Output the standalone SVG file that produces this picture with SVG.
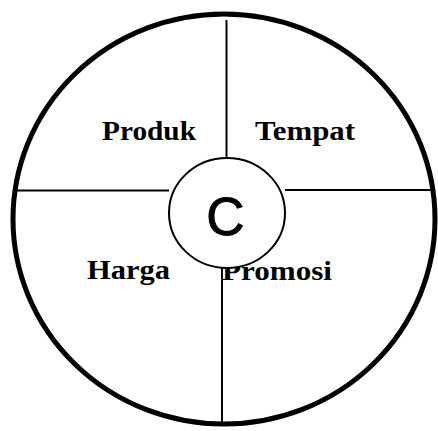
<svg xmlns="http://www.w3.org/2000/svg" width="438" height="431" viewBox="0 0 438 431">
<style>
.line{stroke:#000;stroke-width:2;fill:none}
.lbl{font-family:"Liberation Serif","Times New Roman",serif;font-weight:bold;font-size:28px;fill:#000}
</style>
<rect width="438" height="431" fill="#fff"/>
<g id="labels">
<text class="lbl" x="102" y="140" textLength="94" lengthAdjust="spacingAndGlyphs">Produk</text>
<text class="lbl" x="255" y="140" textLength="100" lengthAdjust="spacingAndGlyphs">Tempat</text>
<text class="lbl" x="87" y="279" textLength="83" lengthAdjust="spacingAndGlyphs">Harga</text>
<text class="lbl" x="222" y="280" textLength="110" lengthAdjust="spacingAndGlyphs">Promosi</text>
</g>
<g id="connectors">
<line class="line" x1="226.5" y1="20" x2="226.5" y2="158"/>
<line class="line" x1="222" y1="267" x2="222" y2="424"/>
<line class="line" x1="16" y1="190.5" x2="169" y2="190.5"/>
<line class="line" x1="285" y1="190" x2="434" y2="190"/>
</g>
<g id="outer">
<ellipse cx="224" cy="219" rx="211" ry="205" fill="none" stroke="#000" stroke-width="5"/>
</g>
<g id="center">
<ellipse cx="227" cy="213" rx="58" ry="55" fill="#fff" stroke="#000" stroke-width="2"/>
<text x="225.5" y="235" text-anchor="middle" font-family="Liberation Sans, Arial, sans-serif" font-size="53" stroke="#000" stroke-width="1">C</text>
</g>
</svg>
